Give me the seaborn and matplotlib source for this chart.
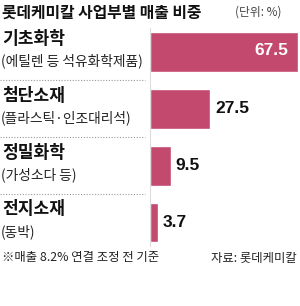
import matplotlib
matplotlib.use("Agg")
import matplotlib.pyplot as plt
import matplotlib.transforms as mtransforms
from matplotlib.lines import Line2D
import seaborn as sns
import pandas as pd

# ---- data ----
categories = ["기초화학", "첨단소재", "정밀화학", "전지소재"]
subtitles = ["(에틸렌 등 석유화학제품)", "(플라스틱·인조대리석)", "(가성소다 등)", "(동박)"]
values = [67.5, 27.5, 9.5, 3.7]
value_labels = ["67.5", "27.5", "9.5", "3.7"]
title = "롯데케미칼 사업부별 매출 비중"
unit = "(단위: %)"
footnote = "※매출 8.2% 연결 조정 전 기준"
source = "자료: 롯데케미칼"

sns.set_theme(style="white")
plt.rcParams["font.family"] = ["Noto Sans CJK KR", "DejaVu Sans"]

W, H = 300, 306
fig = plt.figure(figsize=(W / 100, H / 100), dpi=100)
fig.patch.set_facecolor("white")

# axes placement in pixels
ax_left, ax_right = 150, 300
ax_top, ax_bot = 23.6, 250.9
ax = fig.add_axes([ax_left / W, 1 - ax_bot / H, (ax_right - ax_left) / W, (ax_bot - ax_top) / H])

df = pd.DataFrame({"cat": categories, "val": values})
bar_color = "#C4496F"
sns.barplot(data=df, x="val", y="cat", orient="h", color=bar_color, width=0.70,
            saturation=1, ax=ax, order=categories)
ax.set_xlim(0, 67.5 * 150 / 148)
ax.set_ylim(3.5, -0.5)
ax.set_xlabel("")
ax.set_ylabel("")
ax.set_xticks([])
ax.set_yticks([])
for s in ["top", "right", "bottom"]:
    ax.spines[s].set_visible(False)
ax.spines["left"].set_color("#dcdcdc")
ax.spines["left"].set_linewidth(0.8)
ax.spines["left"].set_bounds(-0.42, 3.42)
ax.patch.set_alpha(0)

num_font = ["Liberation Sans", "DejaVu Sans"]
for i, (v, lab) in enumerate(zip(values, value_labels)):
    if i == 0:
        ax.annotate(lab, xy=(v, i), xytext=(-10, 1.5), textcoords="offset pixels",
                    ha="right", va="center", color="white", fontsize=12.5,
                    fontweight="bold", family=num_font)
    else:
        ax.annotate(lab, xy=(v, i), xytext=(5, 0), textcoords="offset pixels",
                    ha="left", va="center", color="#111111", fontsize=12.5,
                    fontweight="bold", family=num_font)

# category labels (x in figure pixels, y in data)
blend = mtransforms.blended_transform_factory(fig.transFigure, ax.transData)
for i, (c, sub) in enumerate(zip(categories, subtitles)):
    ax.annotate(c, xy=(2 / W, i), xycoords=blend, xytext=(0, 13), textcoords="offset pixels",
                ha="left", va="center", fontsize=12.3, fontweight="heavy", color="#111111")
    ax.annotate(sub, xy=(1 / W, i), xycoords=blend, xytext=(0, -9), textcoords="offset pixels",
                ha="left", va="center", fontsize=9.9, color="#222222")

# dotted separators
for yv in [0.5, 1.5, 2.5]:
    ln = Line2D([0, 145 / W], [yv, yv], transform=blend, color="#9a9a9a",
                linestyle=(0, (1, 1.5)), linewidth=0.8)
    fig.add_artist(ln)

# title & notes
fig.text(2 / W, 1 - 12.5 / H, title, ha="left", va="center", fontsize=11.4,
         fontweight="heavy", color="#111111")
fig.text(235 / W, 1 - 12.5 / H, unit, ha="left", va="center", fontsize=8.5, color="#444444")
fig.text(2 / W, 1 - 258 / H, footnote, ha="left", va="center", fontsize=8.9, color="#222222")
fig.text(297 / W, 1 - 258 / H, source, ha="right", va="center", fontsize=8.9, color="#222222")

fig.savefig("out.png", dpi=100, facecolor="white")
